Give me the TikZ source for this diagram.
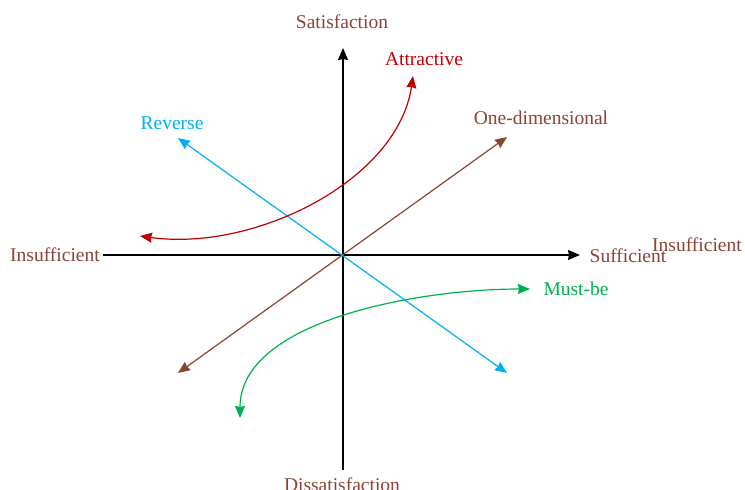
\documentclass[tikz,border=0pt]{standalone}
\usepackage{fontspec}
\setmainfont{Liberation Serif}
\usetikzlibrary{arrows.meta}
\definecolor{brownc}{HTML}{8B4336}
\definecolor{redc}{HTML}{C00000}
\definecolor{cyanc}{HTML}{00B0F0}
\definecolor{greenc}{HTML}{00B050}
\tikzset{
  tip/.style={arrows={-Stealth[length=12pt,width=10pt,inset=1pt]}},
  tips/.style={arrows={Stealth[length=12pt,width=10pt,inset=1pt]-Stealth[length=12pt,width=10pt,inset=1pt]}},
  lbl/.style={font=\fontsize{19.5}{22}\selectfont, inner sep=0pt},
  axis/.style={line width=1.3pt, black, tip},
  curve/.style={line width=1.2pt, tips}
}
\begin{document}
\begin{tikzpicture}[x=1pt,y=-1pt]
\useasboundingbox (0,0) rectangle (745,490);
% axis end points
\coordinate (xl) at (103,255);
\coordinate (xr) at (580,255);
\coordinate (yb) at (343,470);
\coordinate (yt) at (343,48);
% labels
\node[lbl, text=brownc] (sat) at (342,22) {Satisfaction};
\node[lbl, text=brownc] (dis) at (342,485) {Dissatisfaction};
\node[lbl, text=brownc] (insl) at (55,255) {Insufficient};
\node[lbl, text=brownc] (suf) at (628,256) {Sufficient};
\node[lbl, text=brownc] (insr) at (697,245) {Insufficient};
\node[lbl, text=redc] (att) at (424,59) {Attractive};
\node[lbl, text=cyanc] (rev) at (172,123) {Reverse};
\node[lbl, text=brownc] (one) at (541,118) {One-dimensional};
\node[lbl, text=greenc] (must) at (576,289) {Must-be};
% axes
\draw[axis] (xl) -- (xr);
\draw[axis] (yb) -- (yt);
% curve end points
\coordinate (o1) at (178,373);
\coordinate (o2) at (507,137);
\coordinate (r1) at (178,138);
\coordinate (r2) at (507,373);
\coordinate (a1) at (140,236);
\coordinate (a2) at (413,76);
\coordinate (m1) at (530,289);
\coordinate (m2) at (240,418);
% one-dimensional and reverse
\draw[curve, brownc] (o1) -- (o2);
\draw[curve, cyanc] (r1) -- (r2);
% attractive and must-be
\draw[curve, redc] (a1) .. controls (255,252) and (398,180) .. (a2);
\draw[curve, greenc] (m1) .. controls (420,289) and (240,320) .. (m2);
\end{tikzpicture}
\end{document}
